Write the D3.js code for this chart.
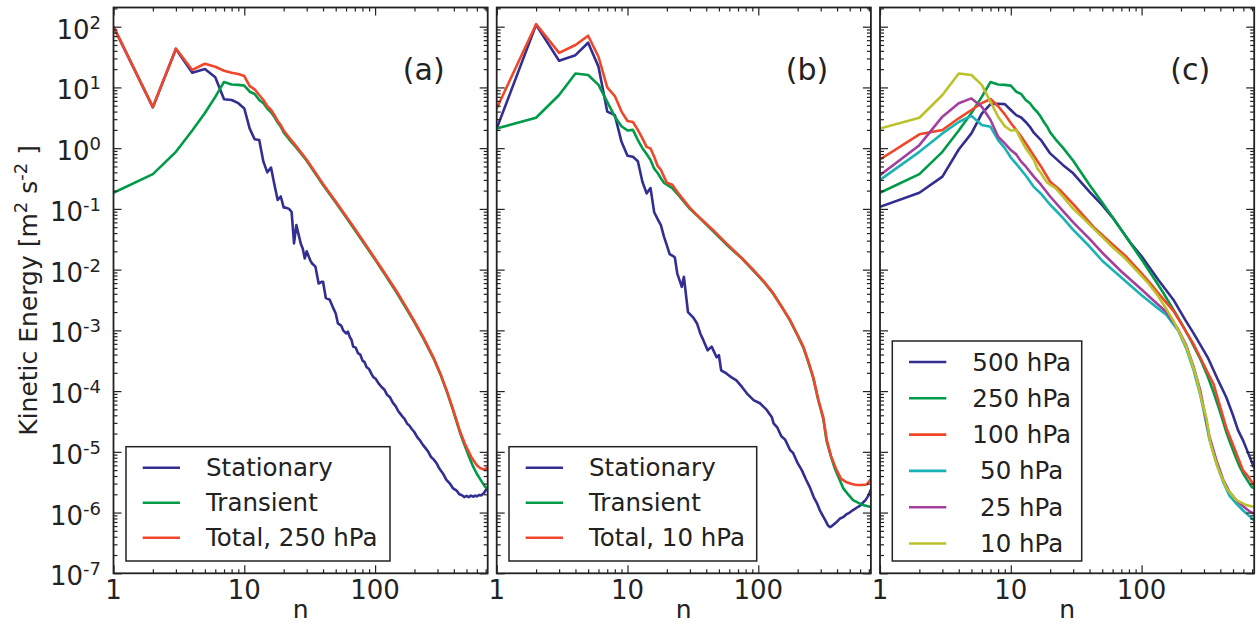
<!DOCTYPE html>
<html><head><meta charset="utf-8">
<script src="https://cdn.jsdelivr.net/npm/d3@7"></script>
<style>
body{margin:0;background:#fff}
text{font-family:"DejaVu Sans",sans-serif;fill:#222}
</style>
</head><body>
<svg id="chart" width="1256" height="625"></svg>
<script>
// ---------- labels ----------
const panelLabels = ["(a)", "(b)", "(c)"];
const xTickValues = [1, 10, 100];
const xTickLabels = ["1", "10", "100"];
const yTickExponents = [-7, -6, -5, -4, -3, -2, -1, 0, 1, 2];
const xAxisTitle = "n";
const legendA = ["Stationary", "Transient", "Total, 250 hPa"];
const legendB = ["Stationary", "Transient", "Total, 10 hPa"];
const legendC = ["500 hPa", "250 hPa", "100 hPa", " 50 hPa", " 25 hPa", " 10 hPa"];

// ---------- data: [n, kinetic energy] ----------
const stationary250 = [[1,100],[2,4.7],[3,43],[4,17.5],[5,20.1],[6,14.7],[7,6.4],[8,6.2],[9,5.5],[10,4.5],[11,2.1],[12,1.4],[13,1.36],[14,0.6],[15,0.4],[16,0.48],[17,0.25],[18,0.14],[19,0.16],[20,0.106],[21,0.104],[22,0.1],[23,0.089],[24,0.027],[25,0.054],[26,0.038],[27,0.027],[28,0.022],[29,0.0153],[30,0.02],[32,0.0141],[33,0.0126],[35,0.0112],[37,0.0059],[39,0.0063],[40,0.0063],[42,0.0034],[45,0.0032],[48,0.0023],[50,0.0019],[52,0.0013],[55,0.0012],[57,0.001],[60,8.9e-4],[62,9.5e-4],[64,7.8e-4],[66,7.0e-4],[68,5.4e-4],[71,5.2e-4],[74,4.2e-4],[77,4.0e-4],[80,3.2e-4],[83,3.0e-4],[86,2.5e-4],[90,2.3e-4],[94,1.9e-4],[97,1.7e-4],[101,1.6e-4],[106,1.35e-4],[112,1.17e-4],[118,1.05e-4],[124,8.6e-5],[130,7.9e-5],[137,6.4e-5],[144,5.6e-5],[150,4.7e-5],[155,4.3e-5],[162,3.8e-5],[168,3.5e-5],[176,2.9e-5],[183,2.7e-5],[190,2.4e-5],[200,2.1e-5],[210,1.75e-5],[220,1.55e-5],[232,1.3e-5],[243,1.15e-5],[255,1.0e-5],[268,8.2e-6],[280,7.5e-6],[295,6.5e-6],[310,5.3e-6],[330,4.4e-6],[350,3.5e-6],[373,3.0e-6],[395,2.5e-6],[420,2.3e-6],[440,2.0e-6],[458,1.95e-6],[480,1.8e-6],[500,1.88e-6],[520,1.8e-6],[540,1.9e-6],[564,1.82e-6],[580,1.9e-6],[600,1.85e-6],[625,1.95e-6],[650,1.92e-6],[670,2.05e-6],[690,2.2e-6],[710,2.45e-6],[726,2.6e-6]];
const transient250 = [[1,0.184],[2,0.374],[3,0.87],[4,1.95],[5,3.8],[6,7.0],[7,12.3],[8,11.2],[9,11.0],[10,10.7],[11,8.5],[12,7.8],[13,6.2],[14,5.5],[15,4.5],[16,3.9],[17,3.25],[18,2.65],[19,2.25],[20,1.82],[22,1.4],[25,1.02],[30,0.62],[40,0.248],[50,0.127],[60,0.073],[70,0.045],[86,0.0236],[100,0.0146],[120,0.0081],[146,0.0042],[175,0.0022],[200,0.00135],[232,7.6e-4],[279,3.5e-4],[320,1.75e-4],[354,9.7e-5],[390,5.2e-5],[421,3.1e-5],[445,2.1e-5],[470,1.5e-5],[520,8.5e-6],[560,5.8e-6],[598,4.4e-6],[650,3.3e-6],[694,2.65e-6],[726,2.5e-6]];
const total250 = [[1,100],[2,4.75],[3,43.5],[4,19.4],[5,24.5],[6,21.9],[7,18.8],[8,17.5],[9,16.6],[10,15.4],[11,10.5],[12,9.3],[13,7.5],[14,6.2],[15,4.9],[16,4.3],[17,3.5],[18,2.8],[19,2.4],[20,1.95],[22,1.5],[25,1.07],[30,0.645],[40,0.257],[50,0.132],[60,0.076],[70,0.047],[86,0.0245],[100,0.0151],[120,0.0084],[146,0.0044],[175,0.0023],[200,0.0014],[232,7.9e-4],[279,3.6e-4],[320,1.8e-4],[354,1.0e-4],[390,5.4e-5],[421,3.2e-5],[445,2.2e-5],[490,1.3e-5],[549,7.9e-6],[600,6.0e-6],[635,5.4e-6],[680,5.1e-6],[726,5.5e-6]];

const stationary10 = [[1,2.1],[2,107],[3,27.5],[4,34],[5,54.5],[6,22],[7,4.0],[8,3.5],[9,1.27],[10,0.75],[11,0.72],[12,0.61],[13,0.28],[14,0.18],[15,0.22],[16,0.088],[17,0.068],[18,0.054],[19,0.035],[20,0.025],[21,0.018],[22,0.017],[23,0.016],[24,0.0087],[26,0.0052],[27,0.0076],[29,0.002],[32,0.0016],[34,0.0013],[36,8.9e-4],[38,6.9e-4],[41,4.7e-4],[44,5.4e-4],[48,3.6e-4],[50,3.9e-4],[52,2.2e-4],[57,1.95e-4],[62,1.7e-4],[68,1.5e-4],[75,1.17e-4],[82,9.1e-5],[92,7.1e-5],[103,6.3e-5],[116,4.9e-5],[127,3.7e-5],[131,2.95e-5],[140,2.5e-5],[150,1.8e-5],[160,1.6e-5],[175,1.07e-5],[185,9.5e-6],[200,6.5e-6],[215,5.0e-6],[233,3.4e-6],[248,2.6e-6],[265,1.8e-6],[280,1.45e-6],[295,1.1e-6],[310,9e-7],[325,7.5e-7],[340,6.2e-7],[353,5.75e-7],[365,6.0e-7],[375,6.3e-7],[395,6.9e-7],[419,7.9e-7],[445,8.4e-7],[470,9.3e-7],[500,1.0e-6],[530,1.1e-6],[565,1.2e-6],[600,1.3e-6],[630,1.45e-6],[660,1.6e-6],[695,1.9e-6],[726,2.4e-6]];
const transient10 = [[1,2.1],[2,3.17],[3,7.5],[4,17],[5,16],[6,11],[7,5.8],[8,3.3],[9,2.3],[10,1.95],[11,2.0],[12,1.36],[13,1.0],[14,0.8],[15,0.64],[16,0.46],[17,0.39],[18,0.32],[19,0.27],[20,0.25],[22,0.22],[25,0.16],[30,0.1],[34,0.078],[45,0.043],[57,0.026],[75,0.0152],[92,0.0095],[110,0.0063],[130,0.004],[150,0.0025],[175,0.00145],[200,8.2e-4],[221,5.2e-4],[240,3.1e-4],[263,1.65e-4],[288,7e-5],[314,3.5e-5],[333,1.5e-5],[360,8.3e-6],[386,5.2e-6],[420,3.4e-6],[447,2.5e-6],[490,1.95e-6],[530,1.6e-6],[620,1.35e-6],[726,1.23e-6]];
const total10 = [[1,4.5],[2,110],[3,37],[4,50],[5,71],[6,32],[7,10],[8,7.2],[9,4.0],[10,2.8],[11,2.7],[12,2.0],[13,1.45],[14,1.05],[15,0.99],[16,0.72],[17,0.51],[18,0.44],[19,0.34],[20,0.27],[22,0.25],[25,0.17],[30,0.104],[34,0.079],[45,0.045],[57,0.027],[75,0.0154],[92,0.0098],[110,0.0064],[130,0.0041],[150,0.0025],[175,0.00148],[200,8.3e-4],[221,5.4e-4],[240,3.2e-4],[263,1.7e-4],[288,7.1e-5],[314,3.7e-5],[333,1.6e-5],[360,8.5e-6],[397,5e-6],[430,3.6e-6],[474,3.15e-6],[520,2.95e-6],[565,2.85e-6],[620,2.85e-6],[674,2.9e-6],[714,3.4e-6],[726,3.6e-6]];

const transient500 = [[1,0.108],[2,0.184],[3,0.34],[4,0.95],[5,1.75],[6,3.7],[7,5.3],[8,5.4],[9,5.3],[10,4.25],[11,3.5],[12,3.2],[13,2.7],[14,2.25],[15,1.8],[17,1.36],[20,0.82],[25,0.53],[30,0.385],[40,0.19],[50,0.115],[60,0.072],[84,0.026],[100,0.0166],[134,0.0068],[175,0.0032],[215,0.0015],[250,8.9e-4],[320,3.6e-4],[380,1.6e-4],[444,7.9e-5],[500,4e-5],[545,2.3e-5],[600,1.5e-5],[660,9e-6],[726,5.4e-6]];
const transient100 = [[1,0.65],[2,1.69],[3,1.99],[4,3.1],[5,4.25],[6,5.5],[7,6.45],[8,4.9],[9,3.6],[10,2.6],[11,2.0],[12,1.55],[13,1.2],[15,0.75],[17,0.5],[20,0.28],[24,0.2],[30,0.12],[43,0.05],[60,0.026],[75,0.017],[100,0.0087],[117,0.0059],[134,0.0041],[175,0.0021],[210,0.0011],[249,6e-4],[290,3.1e-4],[333,1.7e-4],[355,1.3e-4],[400,5.4e-5],[444,2.5e-5],[520,1.05e-5],[595,5e-6],[660,3.8e-6],[726,2.8e-6]];
const transient50 = [[1,0.3],[2,0.87],[3,1.75],[4,2.7],[5,3.4],[6,2.4],[7,2.25],[8,1.36],[9,1.0],[10,0.7],[11,0.55],[12,0.44],[13,0.355],[15,0.23],[17,0.178],[20,0.117],[22,0.095],[25,0.071],[30,0.045],[40,0.024],[50,0.014],[70,0.0074],[100,0.0038],[130,0.0024],[155,0.0018],[190,0.001],[220,5e-4],[250,2.2e-4],[280,8.9e-5],[300,4.5e-5],[330,1.6e-5],[375,6.3e-6],[420,3.2e-6],[470,1.9e-6],[530,1.4e-6],[600,1.07e-6],[660,8.9e-7],[726,7.4e-7]];
const transient25 = [[1,0.36],[2,1.12],[3,3.3],[4,5.5],[5,6.6],[6,4.8],[7,2.9],[8,1.54],[9,1.2],[10,0.93],[11,0.79],[12,0.6],[13,0.5],[15,0.34],[17,0.25],[20,0.16],[25,0.093],[30,0.06],[40,0.032],[50,0.019],[70,0.0093],[100,0.0047],[130,0.0028],[155,0.002],[190,0.00105],[220,5.6e-4],[250,2.5e-4],[280,1.05e-4],[300,5e-5],[330,1.8e-5],[375,7e-6],[420,3.5e-6],[470,2.2e-6],[530,1.6e-6],[600,1.26e-6],[660,1.07e-6],[726,9.5e-7]];

// ---------- styling ----------
const colBlue = "#332f92", colGreen = "#009b48", colRed = "#f0462a",
      colCyan = "#1ab3b5", colMagenta = "#a3409f", colYellow = "#bcc22a";

const panels = [
  {label: panelLabels[0], series: [stationary250, transient250, total250], colors: [colBlue, colGreen, colRed], legend: legendA, legBox: [126, 446.7, 264, 114.3]},
  {label: panelLabels[1], series: [stationary10, transient10, total10], colors: [colBlue, colGreen, colRed], legend: legendB, legBox: [509, 446.7, 247.7, 114.3]},
  {label: panelLabels[2], series: [transient500, transient250, transient100, transient50, transient25, transient10], colors: [colBlue, colGreen, colRed, colCyan, colMagenta, colYellow], legend: legendC, legBox: [892.3, 341, 189.4, 220]}
];

const svg = d3.select("#chart");
const panelX = [113.5, 496.7, 880];
const pw = 374.2, plotTop = 7.5, plotBottom = 573.3;
const nMax = 726, yMax = 207;

const yScale = d3.scaleLog().domain([1e-7, yMax]).range([plotBottom, plotTop]);

const xMinor = [];
[1, 10, 100].forEach(d => { for (let k = 2; k <= 9; k++) if (k * d < nMax) xMinor.push(k * d); });
const yMinor = [];
for (let e = -7; e <= 2; e++) for (let k = 2; k <= 9; k++) { const v = k * Math.pow(10, e); if (v < yMax) yMinor.push(v); }
const yMajor = yTickExponents.map(e => Math.pow(10, e));

panels.forEach((p, i) => {
  const x0 = panelX[i];
  const x = d3.scaleLog().domain([1, nMax]).range([x0, x0 + pw]);
  const g = svg.append("g");
  const clipId = "clip" + i;
  svg.append("clipPath").attr("id", clipId).append("rect")
    .attr("x", x0).attr("y", plotTop).attr("width", pw).attr("height", plotBottom - plotTop);

  const line = d3.line().x(d => x(d[0])).y(d => yScale(d[1]));
  const lg = g.append("g").attr("clip-path", `url(#${clipId})`);
  p.series.forEach((s, j) => {
    lg.append("path").datum(s).attr("d", line)
      .attr("fill", "none").attr("stroke", p.colors[j])
      .attr("stroke-width", 2.6).attr("stroke-linejoin", "round").attr("stroke-linecap", "butt");
  });

  const tickStyle = sel => { sel.select(".domain").remove(); sel.selectAll("line").attr("stroke", "#222").attr("stroke-width", 1.2); sel.selectAll("text").remove(); };
  g.append("g").attr("transform", `translate(0,${plotBottom})`).call(d3.axisBottom(x).tickValues(xTickValues).tickSize(-8).tickFormat("")).call(tickStyle);
  g.append("g").attr("transform", `translate(0,${plotBottom})`).call(d3.axisBottom(x).tickValues(xMinor).tickSize(-4).tickFormat("")).call(tickStyle);
  g.append("g").attr("transform", `translate(0,${plotTop})`).call(d3.axisTop(x).tickValues(xTickValues).tickSize(-8).tickFormat("")).call(tickStyle);
  g.append("g").attr("transform", `translate(0,${plotTop})`).call(d3.axisTop(x).tickValues(xMinor).tickSize(-4).tickFormat("")).call(tickStyle);
  g.append("g").attr("transform", `translate(${x0},0)`).call(d3.axisLeft(yScale).tickValues(yMajor).tickSize(-8).tickFormat("")).call(tickStyle);
  g.append("g").attr("transform", `translate(${x0},0)`).call(d3.axisLeft(yScale).tickValues(yMinor).tickSize(-4).tickFormat("")).call(tickStyle);
  g.append("g").attr("transform", `translate(${x0 + pw},0)`).call(d3.axisRight(yScale).tickValues(yMajor).tickSize(-8).tickFormat("")).call(tickStyle);
  g.append("g").attr("transform", `translate(${x0 + pw},0)`).call(d3.axisRight(yScale).tickValues(yMinor).tickSize(-4).tickFormat("")).call(tickStyle);

  g.append("rect").attr("x", x0).attr("y", plotTop).attr("width", pw).attr("height", plotBottom - plotTop)
    .attr("fill", "none").attr("stroke", "#222").attr("stroke-width", 1.8);

  xTickValues.forEach((v, k) => {
    g.append("text").attr("x", x(v)).attr("y", 599).attr("text-anchor", "middle")
      .style("font-size", "26px").text(xTickLabels[k]);
  });
  g.append("text").attr("x", x0 + pw / 2).attr("y", 618).attr("text-anchor", "middle")
    .style("font-size", "25px").text(xAxisTitle);

  g.append("text").attr("x", x0 + pw - 64).attr("y", 80).attr("text-anchor", "middle")
    .style("font-size", "30px").text(p.label);

  const [lx, ly, lw, lh] = p.legBox;
  const lgd = g.append("g");
  lgd.append("rect").attr("x", lx).attr("y", ly).attr("width", lw).attr("height", lh)
    .attr("fill", "#fff").attr("stroke", "#222").attr("stroke-width", 1.5);
  const step = p.legend.length === 3 ? 35 : 36.3;
  const firstY = ly + 21;
  p.legend.forEach((name, j) => {
    const yy = firstY + j * step;
    lgd.append("line").attr("x1", lx + 16.7).attr("x2", lx + 54).attr("y1", yy).attr("y2", yy)
      .attr("stroke", p.colors[j]).attr("stroke-width", 2.6);
    lgd.append("text").attr("x", lx + 80).attr("y", yy + 8.5)
      .style("font-size", "24.5px").style("white-space", "pre").text(name);
  });
});

yTickExponents.forEach(e => {
  const t = svg.append("text").attr("x", 101).attr("y", yScale(Math.pow(10, e)) + 12)
    .attr("text-anchor", "end").style("font-size", "26px");
  t.append("tspan").text("10");
  t.append("tspan").attr("dy", -10).style("font-size", "18px").text(String(e));
});

const yt = svg.append("text").attr("transform", `translate(37,${(plotTop + plotBottom) / 2}) rotate(-90)`)
  .attr("text-anchor", "middle").style("font-size", "25px").style("white-space", "pre");
yt.append("tspan").text("Kinetic Energy [m");
yt.append("tspan").attr("dy", -10).style("font-size", "18px").text("2");
yt.append("tspan").attr("dy", 10).text(" s");
yt.append("tspan").attr("dy", -10).style("font-size", "18px").text("-2");
yt.append("tspan").attr("dy", 10).text(" ]");
</script>
</body></html>
